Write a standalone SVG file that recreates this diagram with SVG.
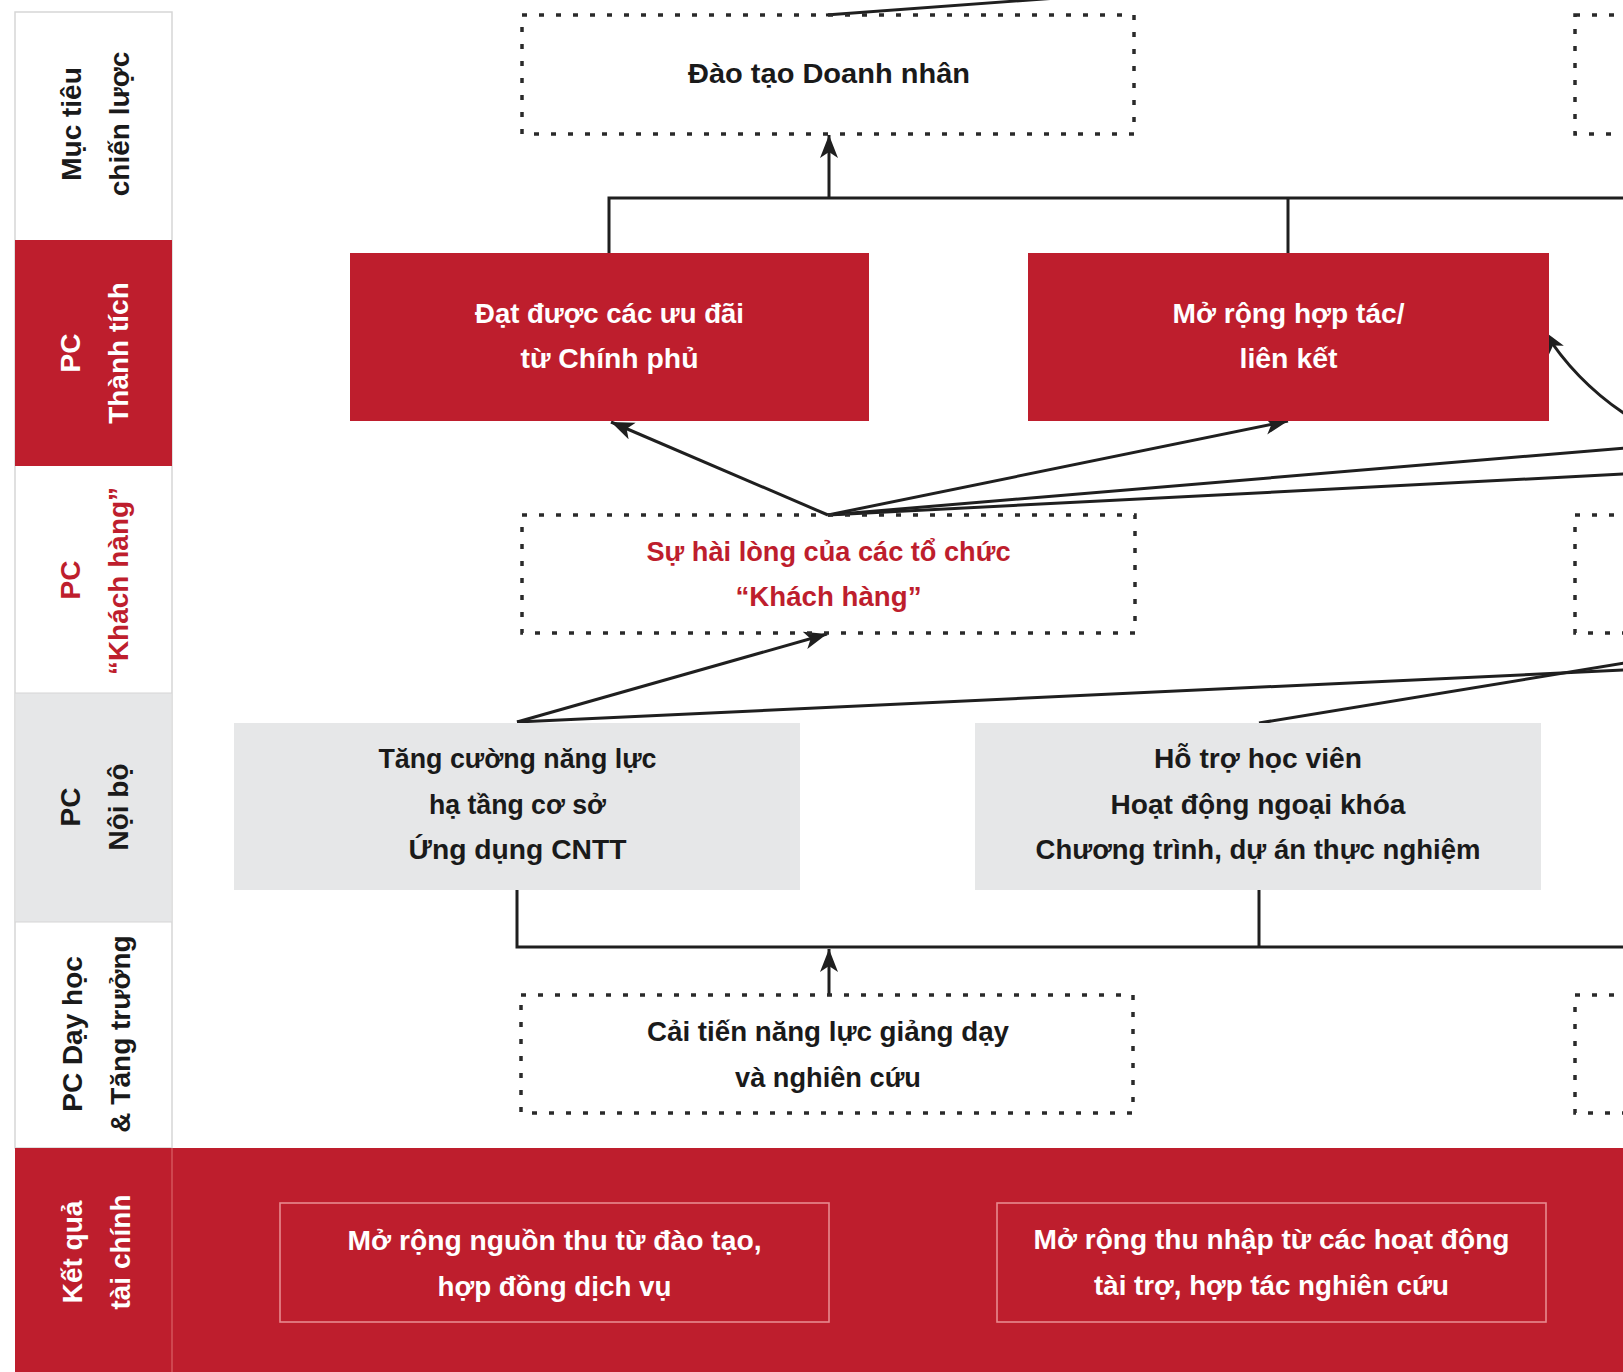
<svg xmlns="http://www.w3.org/2000/svg" width="1623" height="1372" viewBox="0 0 1623 1372">
<style>
.lbl{font-family:"Liberation Sans","Open Sans",Arial,sans-serif;font-weight:bold;font-size:28px;text-anchor:middle}
.t{font-family:"Liberation Sans","Open Sans",Arial,sans-serif;font-weight:bold;font-size:27px;text-anchor:middle}
.dk{fill:#1a1a1a}
.wh{fill:#ffffff}
.rd{fill:#be1e2d}
.dot{fill:none;stroke:#2a2a2a;stroke-width:3.5;stroke-dasharray:5 12}
.red{fill:#be1e2d}
.gray{fill:#e6e7e8}
.fin{fill:none;stroke:#e88a8f;stroke-width:1.6}
.ln{fill:none;stroke:#1f1f1f;stroke-width:3}
.ar{fill:none;stroke:#1f1f1f;stroke-width:3;marker-end:url(#ah)}
</style>
<defs>
<marker id="ah" markerUnits="userSpaceOnUse" markerWidth="26" markerHeight="20" refX="23" refY="9" orient="auto">
<path d="M0,0 L23,9 L0,18 L6,9 z" fill="#1f1f1f"/>
</marker>
</defs>
<rect width="1623" height="1372" fill="#ffffff"/>

<g id="lanes">
<rect x="15" y="12" width="157" height="1136" fill="#ffffff" stroke="#d6d6d6" stroke-width="1.5"/>
<rect x="15" y="240" width="157" height="226" class="red"/>
<rect x="15.75" y="693" width="155.5" height="229" class="gray"/>
<line x1="15" y1="693" x2="172" y2="693" stroke="#d6d6d6" stroke-width="1.2"/>
<line x1="15" y1="922" x2="172" y2="922" stroke="#d6d6d6" stroke-width="1.2"/>
<rect x="15" y="1148" width="1608" height="224" class="red"/>
<line x1="172" y1="1148" x2="172" y2="1372" stroke="#d4545b" stroke-width="1.5"/>
</g>

<g id="lane-labels">
<g id="lane-muc-tieu">
<text class="lbl dk" transform="translate(81,124) rotate(-90)">Mục tiêu</text>
<text class="lbl dk" transform="translate(129,124) rotate(-90)">chiến lược</text>
</g>
<g id="lane-thanh-tich">
<text class="lbl wh" transform="translate(80,353) rotate(-90)">PC</text>
<text class="lbl wh" transform="translate(128,353) rotate(-90)">Thành tích</text>
</g>
<g id="lane-khach-hang">
<text class="lbl rd" transform="translate(80,580) rotate(-90)">PC</text>
<text class="lbl rd" transform="translate(128,581) rotate(-90)">“Khách hàng”</text>
</g>
<g id="lane-noi-bo">
<text class="lbl dk" transform="translate(80,807) rotate(-90)">PC</text>
<text class="lbl dk" transform="translate(128,807) rotate(-90)">Nội bộ</text>
</g>
<g id="lane-day-hoc">
<text class="lbl dk" transform="translate(82,1034) rotate(-90)">PC Dạy học</text>
<text class="lbl dk" transform="translate(130,1034) rotate(-90)">&amp; Tăng trưởng</text>
</g>
<g id="lane-tai-chinh">
<text class="lbl wh" transform="translate(82,1252) rotate(-90)">Kết quả</text>
<text class="lbl wh" transform="translate(130,1252) rotate(-90)">tài chính</text>
</g>
</g>

<g id="connectors">
<line class="ln" x1="826" y1="15" x2="1057" y2="-2"/>
<line class="ar" x1="829" y1="198" x2="829" y2="135"/>
<polyline class="ln" points="609,253 609,198 1625,198"/>
<line class="ln" x1="1288" y1="198" x2="1288" y2="253"/>
<line class="ar" x1="828" y1="515" x2="611" y2="422"/>
<line class="ar" x1="828" y1="515" x2="1288" y2="421"/>
<line class="ln" x1="828" y1="515" x2="1625" y2="448"/>
<line class="ln" x1="828" y1="515" x2="1625" y2="474"/>
<path class="ar" d="M1625,414 C1592,392 1566,366 1544,331"/>
<line class="ar" x1="517" y1="722" x2="827" y2="634"/>
<line class="ln" x1="517" y1="722" x2="1625" y2="670"/>
<line class="ln" x1="1259" y1="723" x2="1625" y2="663"/>
<polyline class="ln" points="517,890 517,947 1625,947"/>
<line class="ln" x1="1259" y1="890" x2="1259" y2="947"/>
<line class="ar" x1="829" y1="995" x2="829" y2="949"/>
</g>

<g id="node-dao-tao">
<rect class="dot" x="522" y="15" width="612" height="119"/>
<text class="t dk" x="829" y="83" textLength="282" lengthAdjust="spacingAndGlyphs">Đào tạo Doanh nhân</text>
</g>
<g id="node-top-right">
<rect class="dot" x="1575" y="15" width="120" height="119"/>
</g>

<g id="node-uu-dai">
<rect class="red" x="350" y="253" width="519" height="168"/>
<text class="t wh" x="609.5" y="323" textLength="269" lengthAdjust="spacingAndGlyphs">Đạt được các ưu đãi</text>
<text class="t wh" x="609.5" y="368" textLength="178" lengthAdjust="spacingAndGlyphs">từ Chính phủ</text>
</g>
<g id="node-hop-tac">
<rect class="red" x="1028" y="253" width="521" height="168"/>
<text class="t wh" x="1288.5" y="323" textLength="232" lengthAdjust="spacingAndGlyphs">Mở rộng hợp tác/</text>
<text class="t wh" x="1288.5" y="368" textLength="98" lengthAdjust="spacingAndGlyphs">liên kết</text>
</g>

<g id="node-hai-long">
<rect class="dot" x="522" y="515" width="613" height="118"/>
<text class="t rd" x="828.5" y="561" textLength="364" lengthAdjust="spacingAndGlyphs">Sự hài lòng của các tổ chức</text>
<text class="t rd" x="828.5" y="606" textLength="186" lengthAdjust="spacingAndGlyphs">“Khách hàng”</text>
</g>
<g id="node-mid-right">
<rect class="dot" x="1575" y="515" width="120" height="118"/>
</g>

<g id="node-tang-cuong">
<rect class="gray" x="234" y="723" width="566" height="167"/>
<text class="t dk" x="517.5" y="768" textLength="278" lengthAdjust="spacingAndGlyphs">Tăng cường năng lực</text>
<text class="t dk" x="517.5" y="814" textLength="177" lengthAdjust="spacingAndGlyphs">hạ tầng cơ sở</text>
<text class="t dk" x="517.5" y="859" textLength="218" lengthAdjust="spacingAndGlyphs">Ứng dụng CNTT</text>
</g>
<g id="node-ho-tro">
<rect class="gray" x="975" y="723" width="566" height="167"/>
<text class="t dk" x="1258" y="768" textLength="208" lengthAdjust="spacingAndGlyphs">Hỗ trợ học viên</text>
<text class="t dk" x="1258" y="814" textLength="295" lengthAdjust="spacingAndGlyphs">Hoạt động ngoại khóa</text>
<text class="t dk" x="1258" y="859" textLength="445" lengthAdjust="spacingAndGlyphs">Chương trình, dự án thực nghiệm</text>
</g>

<g id="node-cai-tien">
<rect class="dot" x="521" y="995" width="612" height="118"/>
<text class="t dk" x="828" y="1041" textLength="362" lengthAdjust="spacingAndGlyphs">Cải tiến năng lực giảng dạy</text>
<text class="t dk" x="828" y="1087" textLength="186" lengthAdjust="spacingAndGlyphs">và nghiên cứu</text>
</g>
<g id="node-bottom-right">
<rect class="dot" x="1575" y="995" width="120" height="118"/>
</g>

<g id="node-nguon-thu">
<rect class="fin" x="280" y="1203" width="549" height="119"/>
<text class="t wh" x="554.5" y="1250" textLength="414" lengthAdjust="spacingAndGlyphs">Mở rộng nguồn thu từ đào tạo,</text>
<text class="t wh" x="554.5" y="1296" textLength="234" lengthAdjust="spacingAndGlyphs">hợp đồng dịch vụ</text>
</g>
<g id="node-thu-nhap">
<rect class="fin" x="997" y="1203" width="549" height="119"/>
<text class="t wh" x="1271.5" y="1249" textLength="476" lengthAdjust="spacingAndGlyphs">Mở rộng thu nhập từ các hoạt động</text>
<text class="t wh" x="1271.5" y="1295" textLength="355" lengthAdjust="spacingAndGlyphs">tài trợ, hợp tác nghiên cứu</text>
</g>
</svg>
